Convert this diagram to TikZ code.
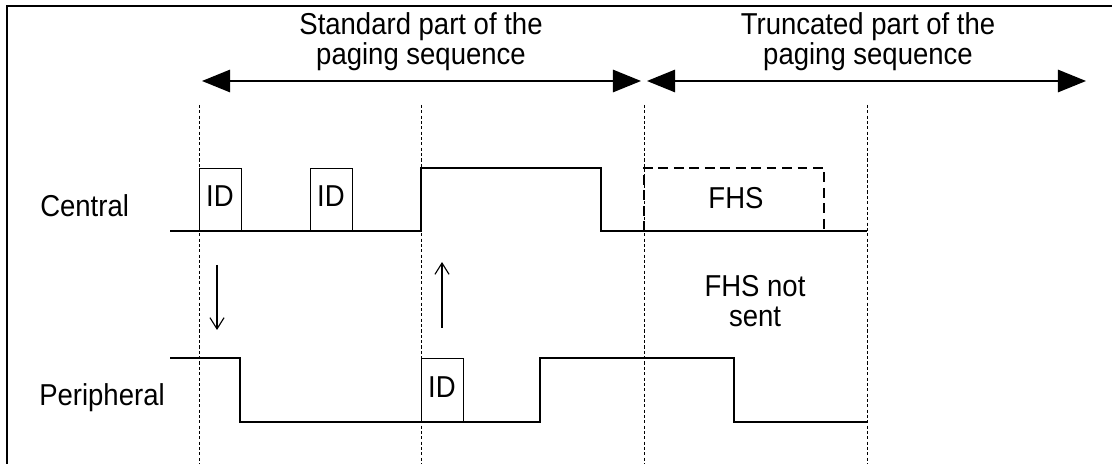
\documentclass[tikz,border=0pt]{standalone}
\usepackage{fontspec}
\setmainfont[FakeStretch=0.91]{Liberation Sans}
\usetikzlibrary{arrows.meta,positioning}

\begin{document}
\begin{tikzpicture}[
      x=0.025cm, y=-0.025cm,
      font=\fontsize{21.5pt}{21.3pt}\selectfont,
      frame/.style={line width=1.5pt, line cap=rect},
      guide/.style={line width=0.6pt, dash pattern=on 2.2pt off 1.6pt},
      signal/.style={line width=1.3pt, line join=miter},
      pkt/.style={line width=0.7pt},
      lostpkt/.style={line width=0.8pt, dash pattern=on 7pt off 4pt},
      span/.style={{Triangle[length=20pt,width=16pt]}-{Triangle[length=20pt,width=16pt]}, line width=1pt},
      hint/.style={-{Straight Barb[length=8pt,width=10pt]}, line width=0.8pt},
      lab/.style={inner sep=0pt, align=center}
    ]
    \useasboundingbox (0,0) rectangle (1112,464);
    \draw[frame] (1112,6) -- (7,6) -- (7,464);

    \node[lab, anchor=north] (std) at (421,12.5) {Standard part of the\\paging sequence};
    \node[lab, anchor=north] (trunc) at (868,12.5) {Truncated part of the\\paging sequence};
    \coordinate (s1) at (202,81);
    \coordinate (s2) at (641,81);
    \coordinate (t1) at (647,81);
    \coordinate (t2) at (1086,81);
    \draw[span] (s1) -- (s2);
    \draw[span] (t1) -- (t2);

    \foreach \gx in {199,421,644,867}
      \draw[guide] (\gx,105) -- (\gx,464);

    \node[lab, anchor=base west] (central) at (40,217) {Central};
    \node[lab, anchor=base west] (periph) at (39,406) {Peripheral};

    \draw[signal] (170,231) -- (421,231) -- (421,168) -- (601,168) -- (601,231) -- (867,231);
    \draw[pkt] (199,231) rectangle (241,168);
    \draw[pkt] (310,231) rectangle (352,168);
    \draw[lostpkt] (644,231) -- (644,168) -- (824,168) -- (824,231);
    \node[lab] (id1) at (220,196) {ID};
    \node[lab] (id2) at (331,196) {ID};
    \node[lab] (fhs) at (736,198) {FHS};

    \draw[signal] (170,358) -- (240,358) -- (240,422) -- (540,422) -- (540,358) -- (734,358) -- (734,422) -- (867,422);
    \draw[pkt] (421,422) rectangle (463,358);
    \node[lab] (id3) at (442,387) {ID};

    \coordinate (d1) at (217,265);
    \coordinate (d2) at (217,330);
    \coordinate (u1) at (442,328);
    \coordinate (u2) at (442,262);
    \draw[hint] (d1) -- (d2);
    \draw[hint] (u1) -- (u2);

    \node[lab, anchor=north] (nosent) at (755,275) {FHS not\\sent};
  \end{tikzpicture}
\end{document}
